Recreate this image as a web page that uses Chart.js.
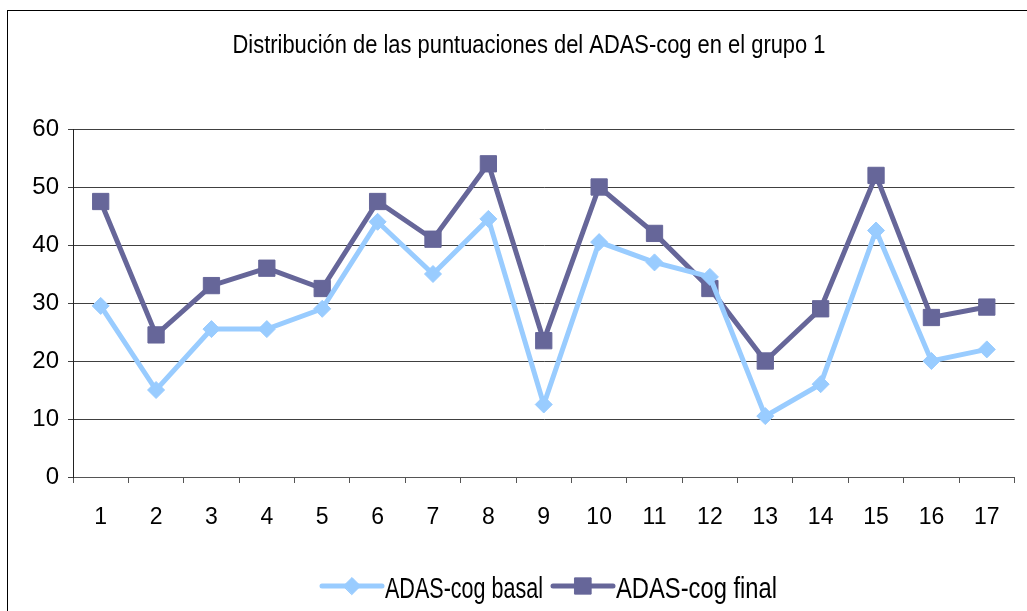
<!DOCTYPE html>
<html lang="es">
<head>
<meta charset="utf-8">
<script src="https://cdn.jsdelivr.net/npm/chart.js"></script>
<style>
  body { margin: 0; background: #fff; }
  #chart { display: block; }
</style>
</head>
<body>
<canvas id="chart" width="1027" height="611"></canvas>
<script>
// datos
var titulo = 'Distribución de las puntuaciones del ADAS-cog en el grupo 1';
var pacientes = ['1','2','3','4','5','6','7','8','9','10','11','12','13','14','15','16','17'];
var basal = [29.5, 15, 25.5, 25.5, 29, 44, 35, 44.5, 12.5, 40.5, 37, 34.5, 10.5, 16, 42.5, 20, 22];
var final = [47.5, 24.5, 33, 36, 32.5, 47.5, 41, 54, 23.5, 50, 42, 32.5, 20, 29, 52, 27.5, 29.3];
var yMin = 0, yMax = 60, yStep = 10;

var colBasal = '#99ccff';
var colFinal = '#666699';
var fuente = '"Liberation Sans", Arial, sans-serif';

// fondo, marco, titulo y leyenda
var extras = {
  id: 'extras',
  beforeDraw: function (c) {
    var ctx = c.ctx;
    ctx.save();
    ctx.fillStyle = '#fff';
    ctx.fillRect(0, 0, c.width, c.height);
    ctx.restore();
  },
  afterDraw: function (c) {
    var ctx = c.ctx;
    ctx.save();
    ctx.strokeStyle = '#000';
    ctx.lineWidth = 1;
    ctx.strokeRect(7.5, 10.5, 1200, 800);

    ctx.fillStyle = '#000';
    ctx.font = '25px ' + fuente;
    ctx.textAlign = 'center';
    ctx.textBaseline = 'alphabetic';
    ctx.fillText(titulo, 529, 53, 593);

    // leyenda
    var items = [
      { x: 322, texto: c.data.datasets[0].label, ds: c.data.datasets[0], ancho: 158 },
      { x: 553, texto: c.data.datasets[1].label, ds: c.data.datasets[1], ancho: 161 }
    ];
    var ly = 586;
    items.forEach(function (it) {
      ctx.strokeStyle = it.ds.borderColor;
      ctx.lineWidth = 5;
      ctx.lineCap = 'round';
      ctx.beginPath();
      ctx.moveTo(it.x, ly);
      ctx.lineTo(it.x + 60, ly);
      ctx.stroke();
      ctx.fillStyle = it.ds.pointBackgroundColor;
      ctx.strokeStyle = it.ds.pointBorderColor;
      ctx.lineWidth = 1;
      Chart.helpers.drawPoint(ctx, {
        pointStyle: it.ds.pointStyle,
        radius: it.ds.pointRadius,
        rotation: 0,
        borderWidth: 1
      }, it.x + 30, ly);
      ctx.fillStyle = '#000';
      ctx.font = '29px ' + fuente;
      ctx.textAlign = 'left';
      ctx.fillText(it.texto, it.x + 63, 598, it.ancho);
    });
    ctx.restore();
  }
};

var chart = new Chart(document.getElementById('chart').getContext('2d'), {
  type: 'line',
  data: {
    labels: pacientes,
    datasets: [
      {
        label: 'ADAS-cog basal',
        data: basal,
        borderColor: colBasal,
        backgroundColor: colBasal,
        borderWidth: 5,
        pointStyle: 'rectRot',
        pointRadius: 8.5,
        pointBackgroundColor: colBasal,
        pointBorderColor: colBasal,
        pointBorderWidth: 1,
        tension: 0
      },
      {
        label: 'ADAS-cog final',
        data: final,
        borderColor: colFinal,
        backgroundColor: colFinal,
        borderWidth: 5,
        pointStyle: 'rect',
        pointRadius: 11.5,
        pointBackgroundColor: colFinal,
        pointBorderColor: colFinal,
        pointBorderWidth: 1,
        tension: 0
      }
    ]
  },
  options: {
    responsive: false,
    animation: false,
    layout: { padding: { left: 0, right: 10, top: 129, bottom: 84 } },
    plugins: {
      legend: { display: false },
      title: { display: false },
      tooltip: { enabled: false }
    },
    scales: {
      x: {
        offset: true,
        grid: {
          offset: true,
          drawOnChartArea: false,
          drawTicks: true,
          tickLength: 6,
          color: '#555'
        },
        border: { color: '#555', width: 1 },
        ticks: {
          color: '#000',
          font: { family: fuente, size: 23 },
          padding: 21,
          maxRotation: 0
        },
        afterFit: function (s) { s.height = 50; }
      },
      y: {
        min: yMin,
        max: yMax,
        ticks: {
          stepSize: yStep,
          color: '#000',
          font: { family: fuente, size: 24 },
          padding: 9
        },
        grid: {
          color: '#404040',
          tickLength: 5,
          drawTicks: true
        },
        border: { color: '#222', width: 1 },
        afterFit: function (s) { s.width = 73; }
      }
    }
  },
  plugins: [extras]
});
</script>
</body>
</html>
